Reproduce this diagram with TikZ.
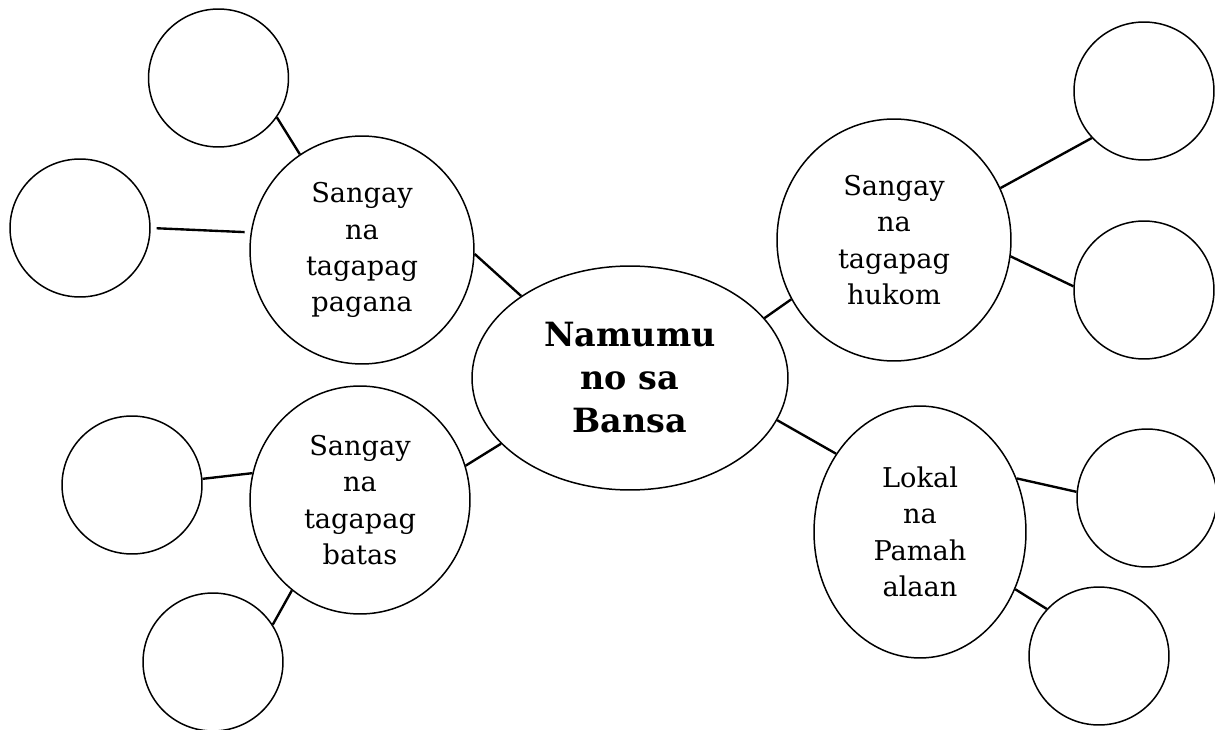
\documentclass[tikz,border=0pt]{standalone}
\usepackage{fontspec}
\setmainfont{DejaVu Serif}
\usetikzlibrary{shapes.geometric}
\tikzset{
  bubble/.style={draw, ellipse, line width=0.85pt, inner sep=0pt, align=center,
    font=\fontsize{15.5}{20.7}\selectfont},
  small/.style={bubble, minimum width=2.8cm, minimum height=2.76cm},
  hub/.style={bubble, font=\fontsize{19}{24.5}\selectfont\bfseries},
  link/.style={line width=1.35pt}
}
\begin{document}
\begin{tikzpicture}[x=0.02cm, y=-0.02cm]
\useasboundingbox (0,0) rectangle (1215,730);
% centre
\node[hub, minimum width=6.32cm, minimum height=4.48cm] (hub) at (630,378) {Namumu\\no sa\\Bansa};
% branches
\node[bubble, minimum width=4.48cm, minimum height=4.56cm] (e1) at (362,250) {\raisebox{-4pt}{\begin{tabular}{@{}c@{}}Sangay\\na\\tagapag\\pagana\end{tabular}}};
\node[bubble, minimum width=4.68cm, minimum height=4.84cm] (e2) at (894,240) {Sangay\\na\\tagapag\\hukom};
\node[bubble, minimum width=4.40cm, minimum height=4.56cm] (e3) at (360,500) {Sangay\\na\\tagapag\\batas};
\node[bubble, minimum width=4.24cm, minimum height=5.04cm] (e4) at (920,532) {Lokal\\na\\Pamah\\alaan};
% leaves
\node[small] (c1) at (218.5,78) {};
\node[small] (c2) at (80,228) {};
\node[small] (c3) at (1144,91) {};
\node[small] (c4) at (1144,290) {};
\node[small] (c5) at (132,485) {};
\node[small] (c6) at (213,662) {};
\node[small] (c7) at (1147,498) {};
\node[small] (c8) at (1099,656) {};
% connectors
\draw[link] (c1.-34) -- (e1.123.4);
\draw[link, shorten <=3.4pt, shorten >=3.4pt] (c2.0) -- (e1.171);
\draw[link] (e1.-2) -- (hub.143);
\draw[link] (hub.24) -- (e2.210.5);
\draw[link] (e2.26.6) -- (c3.222.8);
\draw[link] (e2.-8.1) -- (c4.177);
\draw[link] (hub.207.6) -- (e3.18.4);
\draw[link] (e3.166.6) -- (c5.5.7);
\draw[link] (e3.233.2) -- (c6.32.8);
\draw[link] (hub.-16.3) -- (e4.137.1);
\draw[link] (e4.29.1) -- (c7.175.2);
\draw[link] (e4.-31) -- (c8.138.7);
\end{tikzpicture}
\end{document}
